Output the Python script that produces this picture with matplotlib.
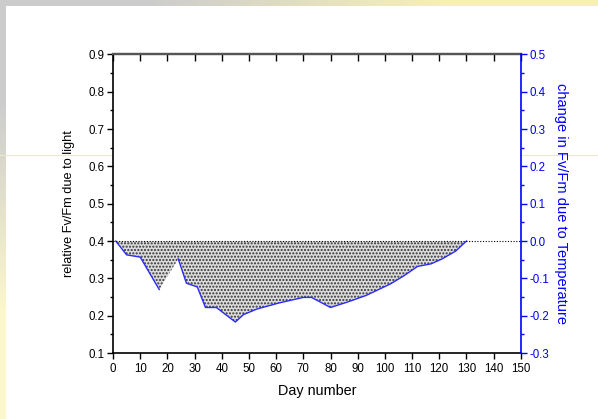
import numpy as np
import matplotlib
matplotlib.use('Agg')
import matplotlib.pyplot as plt
from matplotlib.ticker import MultipleLocator, FormatStrFormatter
from matplotlib.patches import Rectangle

plt.rcParams['font.family'] = ['Liberation Sans', 'DejaVu Sans']

# daily Fv/Fm readings (left axis scale), gap between day 17 and day 24
days = [1, 5, 10, 17, 24, 27, 31, 34, 38, 45, 48, 53, 61, 70, 73, 80, 86, 93,
        102, 107, 112, 117, 121, 126, 130]
fvfm = [0.400, 0.363, 0.357, 0.270, 0.352, 0.287, 0.277, 0.222, 0.222, 0.183,
        0.203, 0.218, 0.234, 0.249, 0.249, 0.222, 0.236, 0.254, 0.285, 0.307,
        0.332, 0.339, 0.352, 0.373, 0.400]
gap_after = 4  # line is broken between the 4th and 5th reading
baseline = 0.4

x_ticks = np.arange(0, 151, 10)
left_ticks = np.arange(0.1, 0.91, 0.1)
right_ticks = np.arange(-0.3, 0.51, 0.1)

fig = plt.figure(figsize=(5.98, 4.19), dpi=100)

# slide background behind the white sheet
bg = fig.add_axes([0, 0, 1, 1], zorder=-10)
grad = np.array([[[0.80, 0.80, 0.80], [0.97, 0.94, 0.72]],
                 [[0.99, 0.97, 0.80], [1.0, 1.0, 1.0]]])
bg.imshow(grad, aspect='auto', interpolation='bilinear', extent=[0, 1, 0, 1])
bg.add_patch(Rectangle((6 / 598, 0), 1, 1 - 6 / 419, facecolor='white',
                       edgecolor='none', transform=bg.transAxes))
bg.plot([0, 1], [1 - 155 / 419] * 2, color='#f4e6cc', lw=0.8)
bg.set_xlim(0, 1)
bg.set_ylim(0, 1)
bg.axis('off')

ax = fig.add_axes([0.189, 0.1575, 0.682, 0.7125])
ax.fill_between(days, fvfm, baseline, facecolor='#dcdcdc', edgecolor='#303030',
                hatch='.....', linewidth=0)
ax.plot(days[:gap_after], fvfm[:gap_after], color='#2a2aff', lw=1)
ax.plot(days[gap_after:], fvfm[gap_after:], color='#2a2aff', lw=1)
ax.axhline(baseline, color='black', ls=(0, (1, 1.5)), lw=0.8)

ax.set_xlim(0, 150)
ax.set_ylim(0.1, 0.9)
ax.set_xticks(x_ticks)
ax.set_yticks(left_ticks)
ax.yaxis.set_minor_locator(MultipleLocator(0.05))
ax.yaxis.set_major_formatter(FormatStrFormatter('%.1f'))
ax.tick_params(axis='both', which='major', direction='out', length=4,
               width=1, labelsize=8.3, pad=2)
ax.tick_params(axis='x', pad=3)
ax.tick_params(axis='y', which='minor', direction='out', length=2, width=1)
ax.set_xlabel('Day number', fontsize=10.4, labelpad=7)
ax.set_ylabel('relative Fv/Fm due to light', fontsize=9.2, labelpad=10)
for side in ['left', 'bottom']:
    ax.spines[side].set_linewidth(1.2)
ax.spines['top'].set_color('#555555')
ax.spines['top'].set_linewidth(1.6)
ax.spines['right'].set_visible(False)

top = ax.secondary_xaxis('top')
top.set_xticks(x_ticks)
top.tick_params(direction='in', length=5, width=1, labeltop=False)
top.spines['top'].set_color('#555555')
top.spines['top'].set_linewidth(1.6)

ax2 = ax.twinx()
ax2.set_ylim(-0.3, 0.5)
ax2.set_yticks(right_ticks)
ax2.yaxis.set_minor_locator(MultipleLocator(0.05))
ax2.yaxis.set_major_formatter(FormatStrFormatter('%.1f'))
ax2.tick_params(axis='y', which='major', direction='out', length=4, width=1,
                colors='blue', labelsize=8.3, pad=2)
ax2.tick_params(axis='y', which='minor', direction='out', length=2, width=1,
                colors='blue')
ax2.spines['right'].set_color('blue')
ax2.spines['right'].set_linewidth(1.2)
for side in ['left', 'top', 'bottom']:
    ax2.spines[side].set_visible(False)
ax2.set_ylabel('change in Fv/Fm due to Temperature', color='blue',
               fontsize=10.5, rotation=270, labelpad=14)

fig.savefig('out.png', dpi=100)
